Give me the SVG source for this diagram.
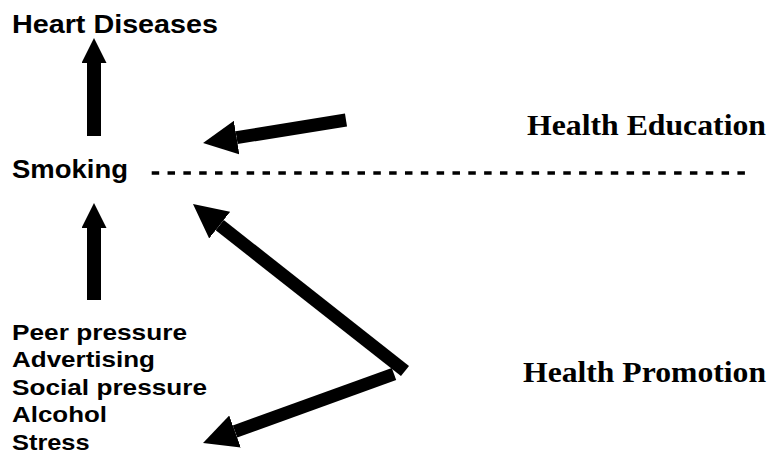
<svg xmlns="http://www.w3.org/2000/svg" width="772" height="463" viewBox="0 0 772 463">
  <style>
    .sans { font-family: "Liberation Sans", Arial, sans-serif; font-weight: bold; fill: #000; }
    .serif { font-family: "Liberation Serif", "Times New Roman", serif; font-weight: bold; fill: #000; font-size: 29px; }
    .shaft { stroke: #000; fill: none; stroke-linecap: butt; }
    .dash { stroke: #000; stroke-width: 3.5; stroke-dasharray: 7.5 8.33; fill: none; }
  </style>
  <defs>
    <marker id="headV" markerUnits="userSpaceOnUse" viewBox="0 0 25 25" markerWidth="25" markerHeight="25" refX="0" refY="12.5" orient="auto">
      <path d="M0,0 L25,12.5 L0,25 Z" fill="#000"/>
    </marker>
    <marker id="headD" markerUnits="userSpaceOnUse" viewBox="0 0 34 34" markerWidth="34" markerHeight="34" refX="0" refY="17" orient="auto">
      <path d="M0,0 L34,17 L0,34 Z" fill="#000"/>
    </marker>
  </defs>

  <g id="heart-diseases">
    <text class="sans" x="12" y="33" font-size="25" textLength="206" lengthAdjust="spacingAndGlyphs">Heart Diseases</text>
  </g>

  <g id="smoking">
    <text class="sans" x="12" y="178" font-size="25" textLength="116" lengthAdjust="spacingAndGlyphs">Smoking</text>
  </g>

  <g id="causes">
    <text class="sans" x="12" y="339.5" font-size="22.5" textLength="175" lengthAdjust="spacingAndGlyphs">Peer pressure</text>
    <text class="sans" x="12" y="367" font-size="22.5" textLength="143" lengthAdjust="spacingAndGlyphs">Advertising</text>
    <text class="sans" x="12" y="394.5" font-size="22.5" textLength="195" lengthAdjust="spacingAndGlyphs">Social pressure</text>
    <text class="sans" x="12" y="422" font-size="22.5" textLength="95" lengthAdjust="spacingAndGlyphs">Alcohol</text>
    <text class="sans" x="12" y="449.5" font-size="22.5" textLength="77.6" lengthAdjust="spacingAndGlyphs">Stress</text>
  </g>

  <g id="health-education">
    <text class="serif" x="527" y="135" textLength="239" lengthAdjust="spacingAndGlyphs">Health Education</text>
  </g>

  <g id="health-promotion">
    <text class="serif" x="523" y="381.5" textLength="243" lengthAdjust="spacingAndGlyphs">Health Promotion</text>
  </g>

  <g id="connectors">
    <line class="dash" x1="151.7" y1="173" x2="745" y2="173"/>
    <line class="shaft" x1="94" y1="136" x2="94" y2="63" stroke-width="14" marker-end="url(#headV)"/>
    <line class="shaft" x1="94" y1="300" x2="94" y2="228" stroke-width="14" marker-end="url(#headV)"/>
    <line class="shaft" x1="346" y1="120" x2="236.6" y2="137.6" stroke-width="13" marker-end="url(#headD)"/>
    <line class="shaft" x1="405" y1="371" x2="219.7" y2="225.1" stroke-width="13" marker-end="url(#headD)"/>
    <line class="shaft" x1="394" y1="374" x2="235" y2="431.5" stroke-width="13" marker-end="url(#headD)"/>
  </g>
</svg>
